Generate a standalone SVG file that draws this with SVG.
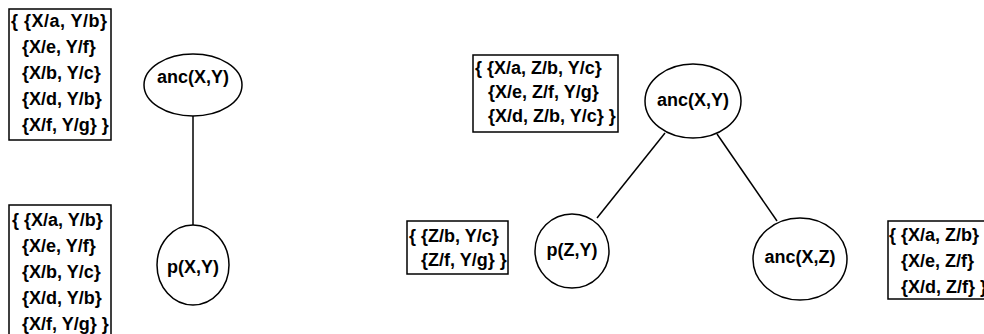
<svg xmlns="http://www.w3.org/2000/svg" width="984" height="334" viewBox="0 0 984 334">
<style>
.box{fill:#fff;stroke:#000;stroke-width:1.5}
.node{fill:#fff;stroke:#000;stroke-width:1.5}
.edge{stroke:#000;stroke-width:1.5;fill:none}
text{font-family:"Liberation Sans",Arial,sans-serif;font-weight:bold;font-size:18px;fill:#000}
.c{text-anchor:middle}
</style>
<rect width="984" height="334" fill="#fff"/>
<g id="connectors">
<line class="edge" x1="193" y1="116" x2="193" y2="225"/>
<line class="edge" x1="665" y1="133" x2="597" y2="218"/>
<line class="edge" x1="717" y1="134" x2="777" y2="221"/>
</g>
<g id="subst-left-top">
<rect class="box" x="9" y="9" width="102" height="131"/>
<text x="11" y="27" textLength="96" lengthAdjust="spacing">{ {X/a, Y/b}</text>
<text x="22" y="53">{X/e, Y/f}</text>
<text x="22" y="79">{X/b, Y/c}</text>
<text x="22" y="105">{X/d, Y/b}</text>
<text x="22" y="131">{X/f, Y/g} }</text>
</g>
<g id="subst-left-bottom">
<rect class="box" x="9" y="205" width="102" height="131"/>
<text x="12" y="226">{ {X/a, Y/b}</text>
<text x="22" y="252">{X/e, Y/f}</text>
<text x="22" y="278">{X/b, Y/c}</text>
<text x="22" y="304">{X/d, Y/b}</text>
<text x="22" y="330">{X/f, Y/g} }</text>
</g>
<g id="node-anc-xy-left">
<ellipse class="node" cx="193" cy="85" rx="49" ry="31"/>
<text class="c" x="193" y="83">anc(X,Y)</text>
</g>
<g id="node-p-xy">
<ellipse class="node" cx="193" cy="265" rx="36" ry="40"/>
<text class="c" x="193" y="273">p(X,Y)</text>
</g>
<g id="subst-right-top">
<rect class="box" x="473" y="55" width="145" height="77"/>
<text x="475" y="74">{ {X/a, Z/b, Y/c}</text>
<text x="488" y="98">{X/e, Z/f, Y/g}</text>
<text x="488" y="122">{X/d, Z/b, Y/c} }</text>
</g>
<g id="node-anc-xy-right">
<ellipse class="node" cx="693" cy="101" rx="48" ry="37"/>
<text class="c" x="693" y="106">anc(X,Y)</text>
</g>
<g id="subst-p-zy">
<rect class="box" x="407" y="221" width="101" height="53"/>
<text x="409" y="242">{ {Z/b, Y/c}</text>
<text x="421" y="266">{Z/f, Y/g} }</text>
</g>
<g id="node-p-zy">
<ellipse class="node" cx="572" cy="251" rx="37" ry="37"/>
<text class="c" x="572" y="256">p(Z,Y)</text>
</g>
<g id="node-anc-xz">
<ellipse class="node" cx="800" cy="259" rx="47" ry="41"/>
<text class="c" x="800" y="263">anc(X,Z)</text>
</g>
<g id="subst-anc-xz">
<rect class="box" x="888" y="221" width="110" height="78"/>
<text x="889" y="241">{ {X/a, Z/b}</text>
<text x="901" y="267">{X/e, Z/f}</text>
<text x="901" y="293">{X/d, Z/f} }</text>
</g>
</svg>
